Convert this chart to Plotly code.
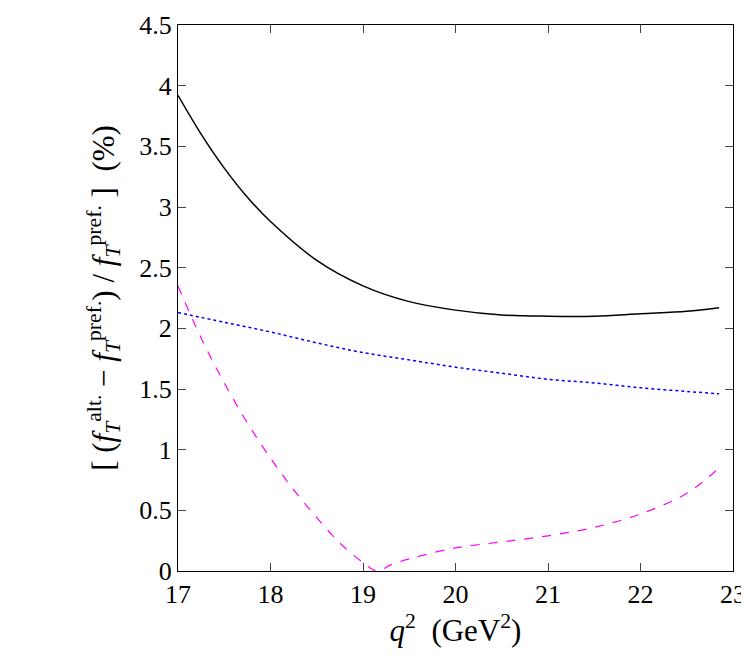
import plotly.graph_objects as go

x_black = [17.0, 17.25, 17.5, 17.75, 18.0, 18.5, 19.0, 19.5, 20.0, 20.5, 21.0, 21.5, 22.0, 22.5, 22.85]
y_black = [3.92, 3.6, 3.32, 3.08, 2.88, 2.56, 2.35, 2.22, 2.15, 2.11, 2.1, 2.1, 2.12, 2.14, 2.17]
x_blue = [17.0, 17.5, 18.0, 18.5, 19.0, 19.5, 20.0, 20.5, 21.0, 21.5, 22.0, 22.5, 22.85]
y_blue = [2.13, 2.05, 1.97, 1.88, 1.8, 1.74, 1.68, 1.63, 1.58, 1.55, 1.51, 1.48, 1.46]
x_mag = [17.0, 17.25, 17.5, 17.75, 18.0, 18.25, 18.5, 18.75, 19.0, 19.15, 19.3, 19.5, 20.0, 20.5, 21.0, 21.5, 22.0, 22.5, 22.85]
y_mag = [2.35, 1.92, 1.55, 1.22, 0.93, 0.67, 0.44, 0.23, 0.07, 0.0, 0.05, 0.1, 0.19, 0.24, 0.29, 0.36, 0.47, 0.64, 0.85]

fig = go.Figure()
fig.add_trace(go.Scatter(x=x_black, y=y_black, mode="lines", line=dict(color="black", width=1.5, shape="spline")))
fig.add_trace(go.Scatter(x=x_blue, y=y_blue, mode="lines", line=dict(color="blue", width=1.5, dash="dot", shape="spline")))
fig.add_trace(go.Scatter(x=x_mag, y=y_mag, mode="lines", line=dict(color="magenta", width=1.2, dash="dash", shape="spline")))

ax = dict(showgrid=False, zeroline=False, mirror="ticks", ticks="inside", ticklen=8,
          showline=True, linecolor="black", linewidth=1.2, tickfont=dict(size=26))
fig.update_layout(
    width=749, height=663, showlegend=False, plot_bgcolor="white", paper_bgcolor="white",
    font=dict(family="Liberation Serif", size=26, color="black"),
    margin=dict(l=170, r=24, t=17, b=100, autoexpand=False),
    xaxis=dict(range=[17, 23], dtick=1, title=dict(text="<i>q</i><sup>2</sup>  (GeV<sup>2</sup>)", standoff=5), **ax),
    yaxis=dict(range=[0, 4.5], dtick=0.5,
               title=dict(text="[ (<i>f</i><sub><i>T</i></sub><sup>alt.</sup> − <i>f</i><sub><i>T</i></sub><sup>pref.</sup>) / <i>f</i><sub><i>T</i></sub><sup>pref.</sup> ]  (%)", standoff=15),
               **ax),
)
fig.write_html("out.html")
